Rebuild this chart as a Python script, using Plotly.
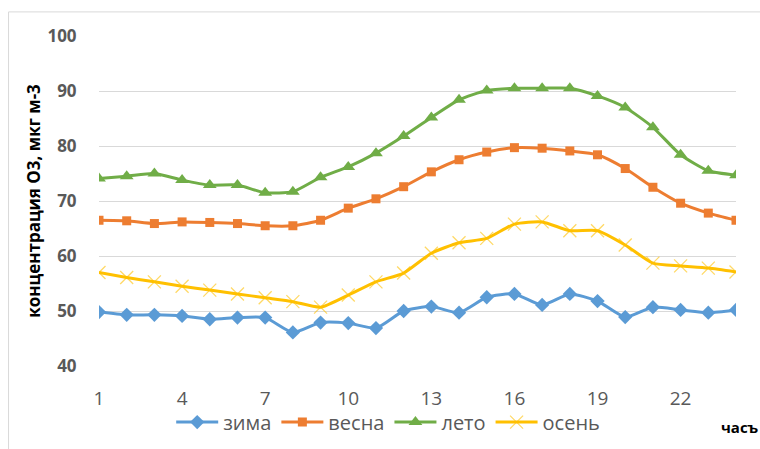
import plotly.graph_objects as go

# Hour of day
hours = list(range(1, 25))
tick_hours = [1, 4, 7, 10, 13, 16, 19, 22]

# Mean O3 concentration by season, µg m-3
winter = [49.8, 49.3, 49.3, 49.1, 48.5, 48.8, 48.8, 46.1, 47.9, 47.8, 46.9, 50.0,
          50.8, 49.7, 52.5, 53.1, 51.1, 53.1, 51.8, 48.9, 50.7, 50.2, 49.7, 50.2]
spring = [66.5, 66.4, 65.9, 66.2, 66.1, 65.9, 65.5, 65.5, 66.5, 68.7, 70.4, 72.6,
          75.3, 77.5, 78.9, 79.7, 79.6, 79.1, 78.4, 75.9, 72.5, 69.6, 67.8, 66.5]
summer = [74.1, 74.5, 75.0, 73.8, 72.9, 72.9, 71.5, 71.7, 74.3, 76.2, 78.7, 81.8,
          85.2, 88.4, 90.1, 90.5, 90.5, 90.5, 89.1, 87.0, 83.4, 78.4, 75.5, 74.7]
autumn = [57.0, 56.1, 55.3, 54.5, 53.8, 53.1, 52.4, 51.7, 50.7, 52.9, 55.3, 56.9,
          60.5, 62.4, 63.2, 65.8, 66.2, 64.6, 64.6, 62.0, 58.7, 58.2, 57.8, 57.1]

series = [
    ("зима", winter, "#5B9BD5", dict(symbol="diamond", size=11)),
    ("весна", spring, "#ED7D31", dict(symbol="square", size=9)),
    ("лето", summer, "#70AD47", dict(symbol="triangle-up", size=12)),
    ("осень", autumn, "#FFC000", dict(symbol="x-thin", size=13,
                                      line=dict(width=1.3, color="rgba(255,192,0,0.6)"))),
]

fig = go.Figure()
for name, vals, color, marker in series:
    fig.add_trace(go.Scatter(
        x=hours, y=vals, name=name, mode="lines+markers",
        line=dict(color=color, width=3, shape="spline", smoothing=0.6),
        marker=dict(color=color, **marker),
    ))

base = "Open Sans, Noto Sans, sans-serif"

fig.update_layout(
    width=760, height=449,
    margin=dict(l=99, r=24, t=36, b=83, autoexpand=False),
    paper_bgcolor="white", plot_bgcolor="white",
    font=dict(family=base, color="#595959"),
    showlegend=True,
    legend=dict(orientation="h", x=0.454, xanchor="center", y=-0.17, yanchor="middle",
                font=dict(size=20, color="#595959"), itemwidth=42,
                bgcolor="rgba(0,0,0,0)"),
    xaxis=dict(range=[1, 24], tickvals=tick_hours, ticktext=[str(h) for h in tick_hours],
               showgrid=False, zeroline=False, showline=False, automargin=False,
               tickfont=dict(family=base, size=19, color="#595959"),
               ticks="outside", ticklen=15, tickcolor="white"),
    yaxis=dict(range=[40, 100], dtick=10, showgrid=True, gridcolor="#D9D9D9",
               gridwidth=1, zeroline=False, showline=False, automargin=False,
               tickfont=dict(family=base, size=17, color="#595959", weight="bold"),
               ticks="outside", ticklen=18, tickcolor="white",
               title=dict(text="концентрация O3, мкг м-3", standoff=2,
                          font=dict(family=base, size=17, color="black", weight="bold"))),
    annotations=[dict(text="часъ", xref="paper", yref="paper", x=1.04, y=-0.185,
                      xanchor="right", yanchor="middle", showarrow=False,
                      font=dict(family=base, size=15, color="black", weight="bold"))],
    shapes=[
        dict(type="line", xref="paper", yref="paper", x0=-0.142, x1=1.04,
             y0=1.073, y1=1.073, line=dict(color="#D9D9D9", width=1)),
        dict(type="line", xref="paper", yref="paper", x0=-0.142, x1=-0.142,
             y0=1.073, y1=-0.26, line=dict(color="#D9D9D9", width=1)),
    ],
)

fig.write_html("out.html")
